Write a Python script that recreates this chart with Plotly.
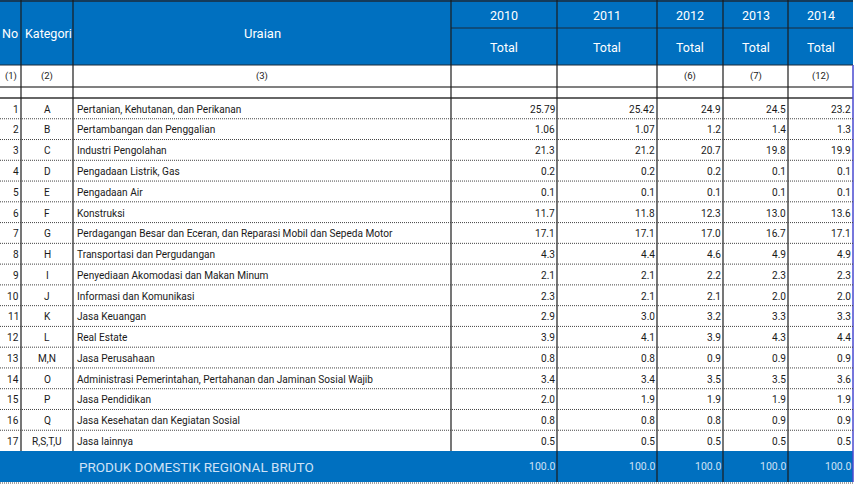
import plotly.graph_objects as go

# ---------------- data ----------------
row_no = [str(i) for i in range(1, 18)]
kategori = ["A", "B", "C", "D", "E", "F", "G", "H", "I", "J", "K", "L",
            "M,N", "O", "P", "Q", "R,S,T,U"]
uraian = [
    "Pertanian, Kehutanan, dan Perikanan",
    "Pertambangan dan Penggalian",
    "Industri Pengolahan",
    "Pengadaan Listrik, Gas",
    "Pengadaan Air",
    "Konstruksi",
    "Perdagangan Besar dan Eceran, dan Reparasi Mobil dan Sepeda Motor",
    "Transportasi dan Pergudangan",
    "Penyediaan Akomodasi dan Makan Minum",
    "Informasi dan Komunikasi",
    "Jasa Keuangan",
    "Real Estate",
    "Jasa Perusahaan",
    "Administrasi Pemerintahan, Pertahanan dan Jaminan Sosial Wajib",
    "Jasa Pendidikan",
    "Jasa Kesehatan dan Kegiatan Sosial",
    "Jasa lainnya",
]
years = ["2010", "2011", "2012", "2013", "2014"]
sub_header = ["Total", "Total", "Total", "Total", "Total"]
col_numbers = ["(1)", "(2)", "(3)", "", "", "(6)", "(7)", "(12)"]

val_2010 = [25.79, 1.06, 21.3, 0.2, 0.1, 11.7, 17.1, 4.3, 2.1, 2.3, 2.9, 3.9, 0.8, 3.4, 2.0, 0.8, 0.5]
val_2011 = [25.42, 1.07, 21.2, 0.2, 0.1, 11.8, 17.1, 4.4, 2.1, 2.1, 3.0, 4.1, 0.8, 3.4, 1.9, 0.8, 0.5]
val_2012 = [24.9, 1.2, 20.7, 0.2, 0.1, 12.3, 17.0, 4.6, 2.2, 2.1, 3.2, 3.9, 0.9, 3.5, 1.9, 0.8, 0.5]
val_2013 = [24.5, 1.4, 19.8, 0.1, 0.1, 13.0, 16.7, 4.9, 2.3, 2.0, 3.3, 4.3, 0.9, 3.5, 1.9, 0.9, 0.5]
val_2014 = [23.2, 1.3, 19.9, 0.1, 0.1, 13.6, 17.1, 4.9, 2.3, 2.0, 3.3, 4.4, 0.9, 3.6, 1.9, 0.9, 0.5]
total_label = "PRODUK DOMESTIK REGIONAL BRUTO"
total_vals = [100.0, 100.0, 100.0, 100.0, 100.0]

year_vals = [val_2010, val_2011, val_2012, val_2013, val_2014]

# ---------------- layout constants ----------------
W, H = 862, 484
BLUE = "#0070C0"
FONT = "Roboto, Liberation Sans, sans-serif"
col_x = [0, 21, 73, 451, 557, 657, 723, 788, 853]   # column boundaries
hdr_top, hdr_mid, hdr_bot = 1, 28, 65
num_bot = 87
data_top = 98
foot_top, foot_bot = 451, 482
row_h = (foot_top - data_top) / len(row_no)
DSIZE = 10.1


def fmt(v):
    return f"{v:.2f}" if round(v, 1) != round(v, 2) else f"{v:.1f}"


shapes = []
ann = []


def line(x0, y0, x1, y1, color="#111", width=1, dash="solid"):
    shapes.append(dict(type="line", xref="x", yref="y", x0=x0, y0=y0, x1=x1, y1=y1,
                       line=dict(color=color, width=width, dash=dash), layer="above"))


def text(x, y, s, size=DSIZE, color="#1a1a1a", anchor="center"):
    ann.append(dict(x=x, y=y, xref="x", yref="y", text=s, showarrow=False,
                    xanchor=anchor, yanchor="middle", borderpad=0,
                    font=dict(family=FONT, size=size, color=color)))


# header background
shapes.append(dict(type="rect", xref="x", yref="y", x0=0, x1=col_x[-1], y0=0, y1=hdr_bot,
                   fillcolor=BLUE, line=dict(width=0), layer="below"))
# footer background
shapes.append(dict(type="rect", xref="x", yref="y", x0=0, x1=col_x[-1], y0=foot_top, y1=foot_bot,
                   fillcolor=BLUE, line=dict(width=0), layer="below"))

# header lines
line(0, hdr_top, col_x[-1], hdr_top, "#1b2a3a", 1.5)
line(col_x[3], hdr_mid, col_x[-1], hdr_mid, "#1b2a3a", 1)
line(0, hdr_bot, col_x[-1], hdr_bot, "#1b2a3a", 1.2)
line(0, num_bot, col_x[-1], num_bot, "#808080", 2)
line(0, data_top, col_x[-1], data_top, "#333", 1.5)

# vertical lines
for xb in col_x[1:-1]:
    line(xb, 0, xb, foot_top, "#1c1c1c", 1.2)
for xb in col_x[4:-1]:
    line(xb, foot_top, xb, foot_bot, "#1c1c1c", 1.2)
line(col_x[-1], hdr_bot, col_x[-1], foot_bot, "#4a4ad0", 1.5)

# dotted row separators
for i in range(1, len(row_no)):
    y = data_top + i * row_h
    line(0, y, col_x[-1], y, "#444", 1, "1px,1px")
line(0, foot_bot + 1, col_x[-1], foot_bot + 1, "#444", 1, "1px,1px")

# header texts
hy = (hdr_top + hdr_bot) / 2
text(10, hy, "No", 12.5, "white")
text(48, hy, "Kategori", 12.5, "white")
text((col_x[2] + col_x[3]) / 2, hy, "Uraian", 13, "white")
for j, yr in enumerate(years):
    cx = (col_x[3 + j] + col_x[4 + j]) / 2
    text(cx, 15, yr, 12.5, "white")
    text(cx, 47, sub_header[j], 12.5, "white")

# column number row
ny = (hdr_bot + num_bot) / 2
num_x = [11, 47, 262] + [(col_x[3 + j] + col_x[4 + j]) / 2 for j in range(5)]
for s, x in zip(col_numbers, num_x):
    if s:
        text(x, ny, s, 9.5)

# data rows
for i in range(len(row_no)):
    yc = data_top + (i + 0.5) * row_h + 0.8
    text(19.5, yc, row_no[i], anchor="right")
    text(47, yc, kategori[i])
    text(76, yc, uraian[i], anchor="left")
    for j in range(5):
        text(col_x[4 + j] - 1.5, yc, fmt(year_vals[j][i]), anchor="right")

# footer
fy = (foot_top + foot_bot) / 2
text(78, fy, total_label, 13.5, "#cfe2f6", anchor="left")
for j in range(5):
    text(col_x[4 + j] - 1.5, fy, fmt(total_vals[j]), 10.5, "#cfe2f6", anchor="right")

fig = go.Figure(go.Scatter(x=[0, W], y=[0, H], mode="markers", marker=dict(opacity=0),
                           hoverinfo="skip", showlegend=False))
fig.update_layout(
    width=W, height=H, margin=dict(l=0, r=0, t=0, b=0),
    paper_bgcolor="white", plot_bgcolor="white",
    xaxis=dict(range=[0, W], visible=False, fixedrange=True),
    yaxis=dict(range=[H, 0], visible=False, fixedrange=True),
    shapes=shapes, annotations=ann, showlegend=False,
)
fig.write_html("out.html", config={"displayModeBar": False},
               post_script="document.body.style.margin='0';")
